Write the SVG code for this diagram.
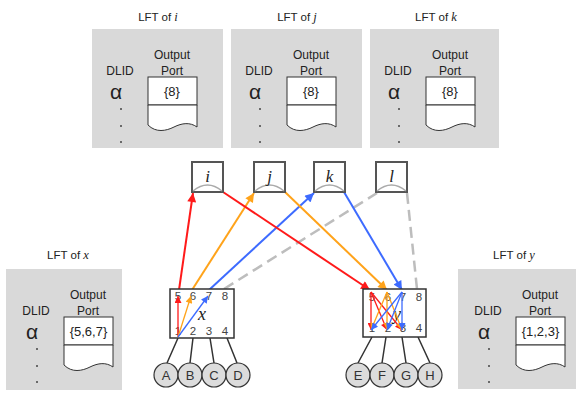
<svg xmlns="http://www.w3.org/2000/svg" width="578" height="393" viewBox="0 0 578 393">
  <style>
    .panel { fill: #d9d9d9; }
    .t { font-family: "Liberation Sans", Arial, sans-serif; fill: #222; text-anchor: middle; }
    .title { font-size: 11.5px; }
    .lbl { font-size: 12px; }
    .alpha { font-size: 21px; }
    .val { font-size: 13px; }
    .it { font-family: "Liberation Serif", "Times New Roman", serif; font-style: italic; }
    .tbl { fill: #fff; stroke: #333; stroke-width: 1; }
    .dot { fill: #444; }
    .sw { fill: #fff; stroke: #333; stroke-width: 1.5; }
    .nd { fill: #fff; stroke: #555; stroke-width: 2; }
    .arc { fill: none; stroke: #aaa; stroke-width: 1.5; }
    .port { font-family: "Liberation Sans", Arial, sans-serif; font-size: 11.5px; fill: #444; text-anchor: middle; }
    .host { fill: #dcdcdc; stroke: #333; stroke-width: 1.2; }
    .hl { font-family: "Liberation Sans", Arial, sans-serif; font-size: 13px; fill: #333; text-anchor: middle; }
    .wire { stroke: #333; stroke-width: 1.5; fill: none; }
    .red { stroke: #ff1a1a; stroke-width: 2; fill: none; }
    .org { stroke: #ffa31a; stroke-width: 2; fill: none; }
    .blu { stroke: #3d6bff; stroke-width: 2; fill: none; }
    .red1 { stroke: #ff1a1a; stroke-width: 1.3; fill: none; }
    .org1 { stroke: #ffa31a; stroke-width: 1.3; fill: none; }
    .blu1 { stroke: #3d6bff; stroke-width: 1.3; fill: none; }
    .dash { stroke: #bdbdbd; stroke-width: 2.5; stroke-dasharray: 11 6; fill: none; }
  </style>
  <defs>
    <marker id="aR" viewBox="0 0 10 10" refX="10" refY="5" markerWidth="11" markerHeight="9" markerUnits="userSpaceOnUse" orient="auto"><path d="M0,0 L10,5 L0,10 z" fill="#ff1a1a"/></marker>
    <marker id="aO" viewBox="0 0 10 10" refX="10" refY="5" markerWidth="11" markerHeight="9" markerUnits="userSpaceOnUse" orient="auto"><path d="M0,0 L10,5 L0,10 z" fill="#ffa31a"/></marker>
    <marker id="aB" viewBox="0 0 10 10" refX="10" refY="5" markerWidth="11" markerHeight="9" markerUnits="userSpaceOnUse" orient="auto"><path d="M0,0 L10,5 L0,10 z" fill="#3d6bff"/></marker>
    <marker id="sR" viewBox="0 0 10 10" refX="10" refY="5" markerWidth="8" markerHeight="7" markerUnits="userSpaceOnUse" orient="auto"><path d="M0,0 L10,5 L0,10 z" fill="#ff1a1a"/></marker>
    <marker id="sO" viewBox="0 0 10 10" refX="10" refY="5" markerWidth="8" markerHeight="7" markerUnits="userSpaceOnUse" orient="auto"><path d="M0,0 L10,5 L0,10 z" fill="#ffa31a"/></marker>
    <marker id="sB" viewBox="0 0 10 10" refX="10" refY="5" markerWidth="8" markerHeight="7" markerUnits="userSpaceOnUse" orient="auto"><path d="M0,0 L10,5 L0,10 z" fill="#3d6bff"/></marker>
    <!-- forwarding table: DLID column, output-port cell with torn bottom -->
    <g id="lftBody">
      <text class="t lbl" x="28" y="46">DLID</text>
      <text class="t lbl" x="80" y="30">Output</text>
      <text class="t lbl" x="80" y="46">Port</text>
      <rect class="tbl" x="56" y="48" width="49" height="28"/>
      <path class="tbl" d="M56,76 V96 C64,104 74,102 82,98 S98,93 105,98 V76 Z"/>
      <text class="t alpha" x="24" y="70">α</text>
      <circle class="dot" cx="29" cy="80" r="1"/>
      <circle class="dot" cx="29" cy="97" r="1"/>
      <circle class="dot" cx="29" cy="113" r="1"/>
    </g>
  </defs>

  <!-- forwarding tables of the upper switches -->
  <g id="lft-i">
    <text class="t title" x="158" y="21">LFT of <tspan class="it" font-size="12.5">i</tspan></text>
    <rect class="panel" x="92" y="29" width="131" height="119"/>
    <use href="#lftBody" x="92" y="29"/>
    <text class="t val" x="172" y="96">{8}</text>
  </g>
  <g id="lft-j">
    <text class="t title" x="297" y="21">LFT of <tspan class="it" font-size="12.5">j</tspan></text>
    <rect class="panel" x="231" y="29" width="131" height="119"/>
    <use href="#lftBody" x="231" y="29"/>
    <text class="t val" x="311" y="96">{8}</text>
  </g>
  <g id="lft-k">
    <text class="t title" x="436" y="21">LFT of <tspan class="it" font-size="12.5">k</tspan></text>
    <rect class="panel" x="370" y="29" width="129" height="119"/>
    <use href="#lftBody" x="370" y="29"/>
    <text class="t val" x="450" y="96">{8}</text>
  </g>

  <!-- forwarding tables of the lower switches -->
  <g id="lft-x">
    <text class="t title" x="68" y="259">LFT of <tspan class="it" font-size="12.5">x</tspan></text>
    <rect class="panel" x="6" y="269" width="116" height="121"/>
    <use href="#lftBody" x="8" y="269"/>
    <text class="t val" x="88.5" y="336">{5,6,7}</text>
  </g>
  <g id="lft-y">
    <text class="t title" x="514" y="259">LFT of <tspan class="it" font-size="12.5">y</tspan></text>
    <rect class="panel" x="458" y="269" width="118" height="120"/>
    <use href="#lftBody" x="460" y="269"/>
    <text class="t val" x="540.5" y="336">{1,2,3}</text>
  </g>

  <!-- connectors -->
  <g id="connectors">
    <!-- host links -->
    <path class="wire" d="M178,338 L167,363 M193,338 L190,363 M210,338 L214,363 M227,338 L237,363"/>
    <path class="wire" d="M372,337 L358,363 M386,337 L382,363 M402,337 L406,363 M418,337 L430,363"/>
    <!-- uplinks from x -->
    <path class="dash" d="M224,289 L377,193"/>
    <path class="red" d="M179,290 L193,193" marker-end="url(#aR)"/>
    <path class="org" d="M192,290 L254,193" marker-end="url(#aO)"/>
    <path class="blu" d="M209,290 L314,193" marker-end="url(#aB)"/>
    <!-- downlinks to y -->
    <path class="dash" d="M407,193 L417,289"/>
    <path class="red" d="M223,192 L370,290" marker-end="url(#aR)"/>
    <path class="org" d="M285,192 L387,290" marker-end="url(#aO)"/>
    <path class="blu" d="M344,192 L402,290" marker-end="url(#aB)"/>
  </g>

  <!-- upper switches -->
  <g id="node-i">
    <rect class="nd" x="192" y="162" width="31" height="30"/>
    <path class="arc" d="M193,191 Q207.5,179 222,191"/>
    <text class="t it" x="207.5" y="182" font-size="17">i</text>
  </g>
  <g id="node-j">
    <rect class="nd" x="254" y="162" width="31" height="30"/>
    <path class="arc" d="M255,191 Q269.5,179 284,191"/>
    <text class="t it" x="269.5" y="182" font-size="17">j</text>
  </g>
  <g id="node-k">
    <rect class="nd" x="314" y="162" width="31" height="30"/>
    <path class="arc" d="M315,191 Q329.5,179 344,191"/>
    <text class="t it" x="329.5" y="182" font-size="17">k</text>
  </g>
  <g id="node-l">
    <rect class="nd" x="376" y="162" width="31" height="30"/>
    <path class="arc" d="M377,191 Q391.5,179 406,191"/>
    <text class="t it" x="391.5" y="182" font-size="17">l</text>
  </g>

  <!-- lower switch x -->
  <g id="node-x">
    <rect class="sw" x="170" y="289" width="64" height="49"/>
    <text class="port" x="178" y="300">5</text>
    <text class="port" x="193" y="300">6</text>
    <text class="port" x="209" y="300">7</text>
    <text class="port" x="225" y="300">8</text>
    <text class="port" x="178" y="335">1</text>
    <text class="port" x="193" y="335">2</text>
    <text class="port" x="209" y="335">3</text>
    <text class="port" x="225" y="335">4</text>
    <text class="t it" x="202" y="320" font-size="18">x</text>
    <path class="red1" d="M178,337 L178,296" marker-end="url(#sR)"/>
    <path class="org1" d="M178,337 L191,296" marker-end="url(#sO)"/>
    <path class="blu1" d="M178,337 L208,296" marker-end="url(#sB)"/>
  </g>

  <!-- lower switch y -->
  <g id="node-y">
    <rect class="sw" x="363" y="289" width="63" height="48"/>
    <text class="port" x="372" y="301">5</text>
    <text class="port" x="388" y="301">6</text>
    <text class="port" x="403" y="301">7</text>
    <text class="port" x="419" y="301">8</text>
    <text class="port" x="372" y="332">1</text>
    <text class="port" x="388" y="332">2</text>
    <text class="port" x="403" y="332">3</text>
    <text class="port" x="419" y="332">4</text>
    <text class="t it" x="397" y="320" font-size="18">y</text>
    <path class="red1" d="M371,292 L371,330" marker-end="url(#sR)"/>
    <path class="red1" d="M371,292 L387,330" marker-end="url(#sR)"/>
    <path class="red1" d="M371,292 L402,330" marker-end="url(#sR)"/>
    <path class="org1" d="M387,292 L371,330" marker-end="url(#sO)"/>
    <path class="org1" d="M387,292 L387,330" marker-end="url(#sO)"/>
    <path class="org1" d="M387,292 L402,330" marker-end="url(#sO)"/>
    <path class="blu1" d="M402,292 L371,330" marker-end="url(#sB)"/>
    <path class="blu1" d="M402,292 L387,330" marker-end="url(#sB)"/>
    <path class="blu1" d="M402,292 L402,330" marker-end="url(#sB)"/>
  </g>

  <!-- hosts -->
  <g id="host-A"><circle class="host" cx="166" cy="375" r="12"/><text class="hl" x="166" y="380">A</text></g>
  <g id="host-B"><circle class="host" cx="190" cy="375" r="12"/><text class="hl" x="190" y="380">B</text></g>
  <g id="host-C"><circle class="host" cx="214" cy="375" r="12"/><text class="hl" x="214" y="380">C</text></g>
  <g id="host-D"><circle class="host" cx="238" cy="375" r="12"/><text class="hl" x="238" y="380">D</text></g>
  <g id="host-E"><circle class="host" cx="358" cy="375" r="12"/><text class="hl" x="358" y="380">E</text></g>
  <g id="host-F"><circle class="host" cx="382" cy="375" r="12"/><text class="hl" x="382" y="380">F</text></g>
  <g id="host-G"><circle class="host" cx="406" cy="375" r="12"/><text class="hl" x="406" y="380">G</text></g>
  <g id="host-H"><circle class="host" cx="430" cy="375" r="12"/><text class="hl" x="430" y="380">H</text></g>
</svg>
